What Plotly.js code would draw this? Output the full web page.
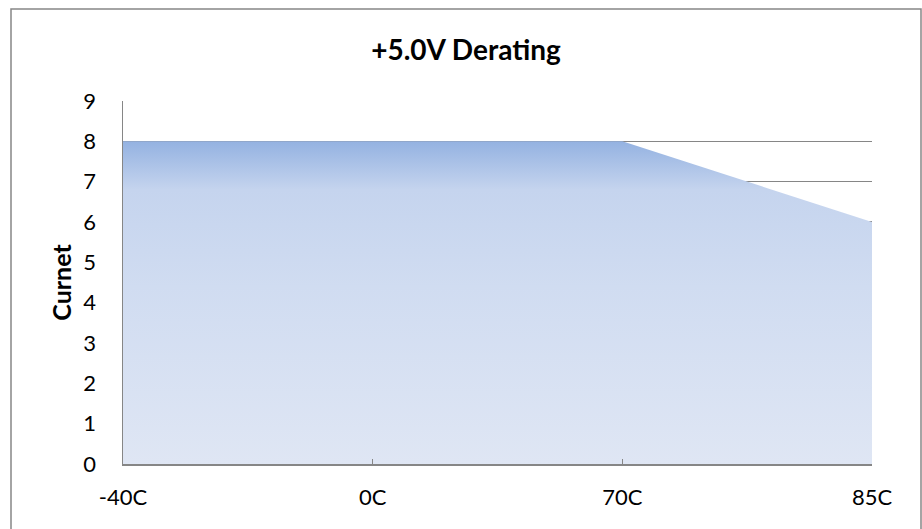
<!DOCTYPE html>
<html>
<head>
<meta charset="utf-8">
<script src="https://cdn.plot.ly/plotly-3.0.1.min.js"></script>
<style>html,body{margin:0;padding:0;background:#fff;}#chart{width:922px;height:529px;}</style>
</head>
<body>
<div id="chart"></div>
<script>
const categories = ['-40C', '0C', '70C', '85C'];
const current = [8, 8, 8, 6];
const yTicks = [0, 1, 2, 3, 4, 5, 6, 7, 8, 9];

const FONT = 'Lato, "Open Sans", sans-serif';
const L = 123, R = 872, T = 101, B = 464, W = 922, H = 529;
const px = x => (x - L) / (R - L);
const py = y => (B - y) / (B - T);

const trace = {
  x: categories,
  y: current,
  type: 'scatter',
  mode: 'lines',
  line: {width: 0, color: 'rgba(0,0,0,0)'},
  fill: 'tozeroy',
  fillgradient: {
    type: 'vertical',
    colorscale: [[0, '#dfe6f4'], [0.55, '#d0dcf1'], [0.85, '#c5d4ee'], [1, '#94b2e1']]
  },
  hoverinfo: 'x+y'
};

const layout = {
  width: W, height: H,
  margin: {l: L, r: W - R, t: T, b: H - B, pad: 0},
  paper_bgcolor: '#fff',
  plot_bgcolor: '#fff',
  showlegend: false,
  font: {family: FONT, size: 22, color: '#000'},
  title: {
    text: '<b>+5.0V Derating</b>',
    font: {family: FONT, size: 28, color: '#000'},
    x: px(466), xref: 'paper', xanchor: 'center',
    y: py(56), yref: 'paper', yanchor: 'middle'
  },
  xaxis: {
    type: 'category',
    range: [0, 3],
    showgrid: false,
    showline: true, linecolor: '#868686', linewidth: 1.5,
    ticks: 'inside', ticklen: 5, tickcolor: '#868686', tickwidth: 1.5,
    tickfont: {family: FONT, size: 22, color: '#000'},
    ticklabelstandoff: 13,
    zeroline: false, fixedrange: true
  },
  yaxis: {
    range: [0, 9],
    tickvals: yTicks,
    ticktext: yTicks.map(String),
    showgrid: true, gridcolor: '#868686', gridwidth: 1.5,
    showline: true, linecolor: '#868686', linewidth: 1.5,
    ticks: '',
    ticklabelstandoff: 21,
    tickfont: {family: FONT, size: 22, color: '#000'},
    zeroline: false, fixedrange: true,
    title: {text: '<b>Curnet</b>', font: {family: FONT, size: 25, color: '#000'}, standoff: 4}
  },
  shapes: [{
    type: 'rect', xref: 'paper', yref: 'paper',
    x0: px(11), x1: px(921), y0: py(540), y1: py(9),
    line: {color: '#868686', width: 1.5}, fillcolor: 'rgba(0,0,0,0)', layer: 'below'
  }]
};

Plotly.newPlot('chart', [trace], layout, {displayModeBar: false, staticPlot: true});
</script>
</body>
</html>
